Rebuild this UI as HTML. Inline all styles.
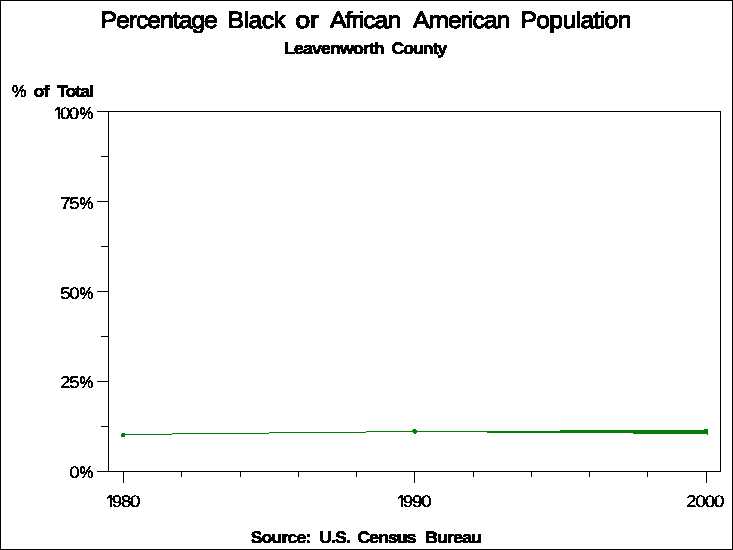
<!DOCTYPE html>
<html lang="en">
<head>
<meta charset="utf-8">
<title>Percentage Black or African American Population - Leavenworth County</title>
<style>
html,body{margin:0;padding:0;background:#fff;}
body{width:733px;height:550px;overflow:hidden;position:relative;}
svg{position:absolute;left:0;top:0;display:block;}
text{font-family:"Liberation Sans",Arial,Helvetica,sans-serif;fill:#000;stroke:#000;text-rendering:geometricPrecision;white-space:pre;}
.t{font-size:23.5px;stroke-width:1.1px;}
.b{font-size:16.7px;font-weight:bold;stroke-width:0.6px;}
.p{font-size:17px;stroke-width:0.6px;}
.n{font-size:17px;stroke-width:0.35px;}
.q{font-size:17px;stroke-width:0.6px;}
</style>
</head>
<body>
<svg width="733" height="550" viewBox="0 0 733 550" role="img" aria-label="Percentage Black or African American Population, Leavenworth County">
 <defs>
  <clipPath id="one0"><path d="M50.85 99H67.85V117.15H59.90V121H57.95V117.15H50.85Z"/></clipPath>
  <clipPath id="one1"><path d="M102.75 487H119.75V505.15H111.80V509H109.85V505.15H102.75Z"/></clipPath>
  <clipPath id="one2"><path d="M393.75 487H410.75V505.15H402.80V509H400.85V505.15H393.75Z"/></clipPath>
  <clipPath id="capT"><rect x="90" y="11" width="560" height="26"/></clipPath>
  <clipPath id="capS"><path d="M270 42H470V62H437V54H270Z"/></clipPath>
  <clipPath id="capY"><rect x="5" y="85" width="100" height="12"/></clipPath>
  <clipPath id="capN"><rect x="40" y="107" width="56" height="12"/><rect x="40" y="197" width="56" height="12"/><rect x="40" y="287" width="56" height="12"/><rect x="40" y="376" width="56" height="12"/><rect x="40" y="466" width="56" height="12"/></clipPath>
  <clipPath id="capX"><rect x="90" y="495" width="640" height="12"/></clipPath>
  <clipPath id="capF"><rect x="240" y="520" width="260" height="23"/></clipPath>
  <!-- hard-threshold the glyph coverage so the text is crisp (bitmap-like) as in the original GIF chart -->
  <filter id="crisp" x="0" y="0" width="733" height="550" filterUnits="userSpaceOnUse" color-interpolation-filters="sRGB">
   <feComponentTransfer><feFuncA type="discrete" tableValues="0 1"/></feComponentTransfer>
  </filter>
 </defs>
 <g shape-rendering="crispEdges">
  <!-- outer border -->
  <rect x="0.5" y="0.5" width="732" height="549" fill="#fff" stroke="#000" stroke-width="1"/>
  <!-- plot frame -->
  <rect x="108.5" y="111.5" width="612" height="360" fill="none" stroke="#000" stroke-width="1"/>
  <g fill="#000">
    <!-- y major ticks -->
    <rect x="97" y="111" width="11" height="1"/>
    <rect x="97" y="201" width="11" height="1"/>
    <rect x="97" y="291" width="11" height="1"/>
    <rect x="97" y="381" width="11" height="1"/>
    <rect x="97" y="471" width="11" height="1"/>
    <!-- y minor ticks -->
    <rect x="101" y="156" width="7" height="1"/>
    <rect x="101" y="246" width="7" height="1"/>
    <rect x="101" y="336" width="7" height="1"/>
    <rect x="101" y="426" width="7" height="1"/>
    <!-- x major ticks -->
    <rect x="123" y="472" width="1" height="11"/>
    <rect x="414" y="472" width="1" height="11"/>
    <rect x="706" y="472" width="1" height="11"/>
    <!-- x minor ticks -->
    <rect x="181" y="472" width="1" height="5"/>
    <rect x="240" y="472" width="1" height="5"/>
    <rect x="298" y="472" width="1" height="5"/>
    <rect x="356" y="472" width="1" height="5"/>
    <rect x="473" y="472" width="1" height="5"/>
    <rect x="531" y="472" width="1" height="5"/>
    <rect x="589" y="472" width="1" height="5"/>
    <rect x="647" y="472" width="1" height="5"/>
  </g>
  <!-- data series (1-px stepped lines as in the aliased original) -->
  <g fill="#008000">
    <rect x="123" y="434" width="49" height="1"/>
    <rect x="172" y="433" width="97" height="1"/>
    <rect x="269" y="432" width="97" height="1"/>
    <rect x="366" y="431" width="121" height="1"/>
    <rect x="487" y="431" width="73" height="2"/>
    <rect x="560" y="430" width="73" height="3"/>
    <rect x="633" y="430" width="71" height="4"/>
    <!-- 1980 marker -->
    <rect x="121" y="434" width="4" height="3"/>
    <rect x="122" y="433" width="3" height="1"/>
    <!-- 1990 marker -->
    <rect x="413" y="429" width="3" height="1"/>
    <rect x="412" y="430" width="5" height="2"/>
    <rect x="413" y="432" width="4" height="1"/>
    <rect x="414" y="433" width="2" height="1"/>
    <!-- 2000 marker -->
    <rect x="704" y="429" width="4" height="5"/>
    <rect x="707" y="434" width="1" height="1"/>
  </g>
 </g>
 <g id="labels" filter="url(#crisp)">
  <g id="title" clip-path="url(#capT)">
   <text class="t" y="28" transform="translate(100.54,0) scale(1.0500,1)" letter-spacing="-0.942">Percentage</text>
   <text class="t" y="28" transform="translate(227.54,0) scale(1.0500,1)" letter-spacing="-0.483">Black</text>
   <text class="t" y="28" transform="translate(295.31,0) scale(1.1436,1)">or</text>
   <text class="t" y="28" transform="translate(330.01,0) scale(1.0500,1)" letter-spacing="-0.904">African</text>
   <text class="t" y="28" transform="translate(412.91,0) scale(1.0500,1)" letter-spacing="-0.929">American</text>
   <text class="t" y="28" transform="translate(520.44,0) scale(1.0500,1)" letter-spacing="-0.599">Population</text>
  </g>
  <g id="subtitle" clip-path="url(#capS)">
   <text class="b" y="54" transform="translate(284.13,0) scale(1.0500,1)" letter-spacing="-0.713">Leavenworth</text>
   <text class="b" y="54" transform="translate(391.59,0) scale(1.0500,1)" letter-spacing="-0.886">County</text>
  </g>
  <g id="ylabel" clip-path="url(#capY)">
   <text class="p" y="97" transform="translate(12.00,0) scale(0.9586,1)">%</text>
   <text class="b" y="97" transform="translate(33.46,0) scale(1.0500,1)" letter-spacing="-0.582">of</text>
   <text class="b" y="97" transform="translate(57.02,0) scale(1.0500,1)" letter-spacing="-0.843">Total</text>
  </g>
  <g id="yticks" clip-path="url(#capN)">
   <g><text class="n" x="53.85" y="119" clip-path="url(#one0)">1</text><text class="n" y="119" transform="translate(59.94,0) scale(1.1000,1)" letter-spacing="-1.367">00</text><text class="q" y="119" transform="translate(79.64,0) scale(0.8937,1)">%</text></g>
   <g><text class="n" y="209" transform="translate(60.23,0) scale(1.1000,1)" letter-spacing="-1.299">75</text><text class="q" y="209" transform="translate(79.64,0) scale(0.8937,1)">%</text></g>
   <g><text class="n" y="299" transform="translate(60.14,0) scale(1.1000,1)" letter-spacing="-1.276">50</text><text class="q" y="299" transform="translate(79.64,0) scale(0.8937,1)">%</text></g>
   <g><text class="n" y="388" transform="translate(59.93,0) scale(1.1000,1)" letter-spacing="-1.026">25</text><text class="q" y="388" transform="translate(79.64,0) scale(0.8937,1)">%</text></g>
   <g><text class="n" y="478" transform="translate(69.44,0) scale(1.0646,1)">0</text><text class="q" y="478" transform="translate(79.64,0) scale(0.8937,1)">%</text></g>
  </g>
  <g id="xticks" clip-path="url(#capX)">
   <g><text class="n" x="105.75" y="507" clip-path="url(#one1)">1</text><text class="n" y="507" transform="translate(111.80,0) scale(1.1000,1)" letter-spacing="-1.144">980</text></g>
   <g><text class="n" x="396.75" y="507" clip-path="url(#one2)">1</text><text class="n" y="507" transform="translate(402.80,0) scale(1.1000,1)" letter-spacing="-1.098">990</text></g>
   <g><text class="n" y="507" transform="translate(686.03,0) scale(1.1000,1)" letter-spacing="-0.948">2000</text></g>
  </g>
  <g id="footnote" clip-path="url(#capF)">
   <text class="b" y="543" transform="translate(250.69,0) scale(1.0500,1)" letter-spacing="-0.751">Source:</text>
   <text class="b" y="543" transform="translate(319.16,0) scale(1.0500,1)" letter-spacing="-0.828">U.S.</text>
   <text class="b" y="543" transform="translate(357.59,0) scale(1.0500,1)" letter-spacing="-0.860">Census</text>
   <text class="b" y="543" transform="translate(425.33,0) scale(1.0500,1)" letter-spacing="-0.732">Bureau</text>
  </g>
 </g>
</svg>
</body>
</html>
